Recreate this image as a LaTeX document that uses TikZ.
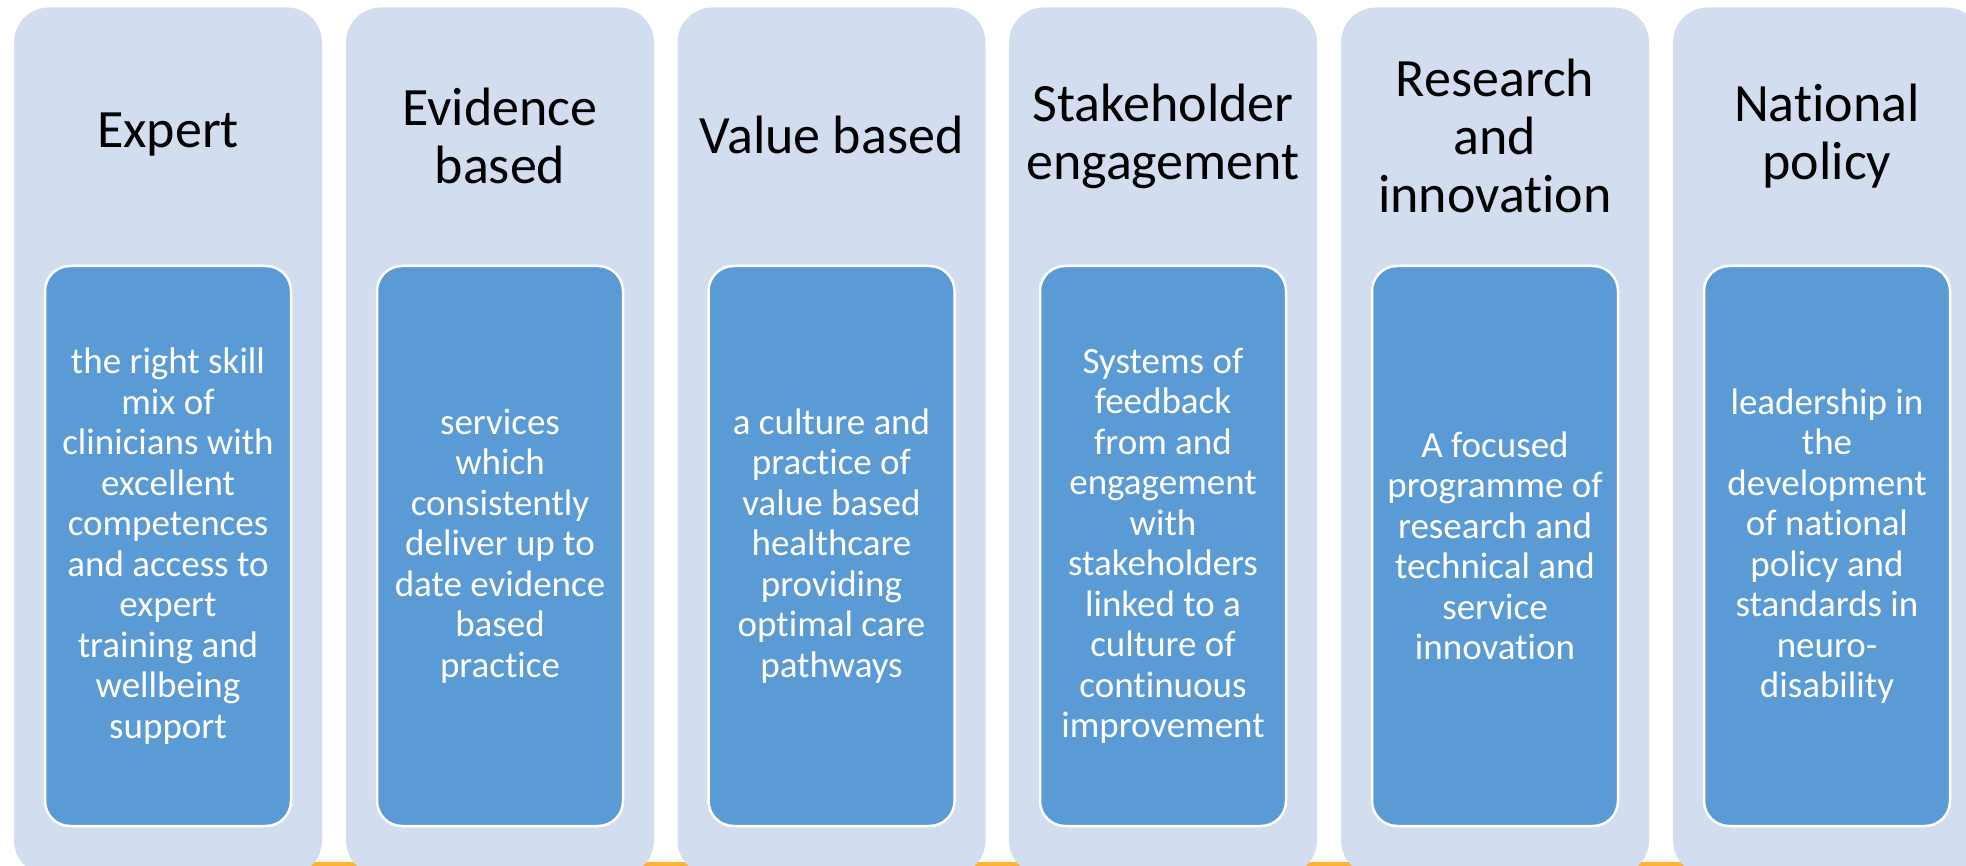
\documentclass[tikz,border=0pt]{standalone}
\usepackage{fontspec}
\setmainfont{Carlito}[Ligatures={NoCommon,NoContextual}]
\definecolor{outerfill}{HTML}{D2DEEF}
\definecolor{innerfill}{HTML}{5B9BD5}
\definecolor{barcol}{HTML}{FFB233}
\begin{document}
\begin{tikzpicture}[x=1pt,y=-1pt,
 outerbox/.style={fill=outerfill, rounded corners=35pt, minimum width=308pt, minimum height=868pt, inner sep=0pt},
 innerbox/.style={fill=innerfill, draw=white, line width=2.5pt, rounded corners=25pt, minimum width=246pt, minimum height=560pt, inner sep=0pt, text=white, align=center, font=\fontsize{37}{40.5}\selectfont},
 titletext/.style={align=center, font=\fontsize{54}{58}\selectfont, text=black, inner sep=0pt}]
\useasboundingbox (0,0) rectangle (1966,866);
\clip (0,0) rectangle (1966,866);
\fill[white] (0,0) rectangle (1966,866);
\fill[barcol] (168,862) rectangle (1827,890);

\node[outerbox] (o1) at (168,441.5) {};
\node[outerbox] (o2) at (500,441.5) {};
\node[outerbox] (o3) at (831.5,441.5) {};
\node[outerbox] (o4) at (1163,441.5) {};
\node[outerbox] (o5) at (1495,441.5) {};
\node[outerbox] (o6) at (1827,441.5) {};

\node[titletext] (t1) at (168,135) {Expert};
\node[titletext] (t2) at (500,136) {Evidence\\based};
\node[titletext] (t3) at (831.5,135) {Value based};
\node[titletext] (t4) at (1163,136) {Stakeholder\\engagement};
\node[titletext] (t5) at (1495,136) {Research\\and\\innovation};
\node[titletext] (t6) at (1827,136) {National\\policy};

\node[innerbox] (i1) at (168,546) {the right skill\\mix of\\clinicians with\\excellent\\competences\\and access to\\expert\\training and\\wellbeing\\support};
\node[innerbox] (i2) at (500,546) {services\\which\\consistently\\deliver up to\\date evidence\\based\\practice};
\node[innerbox] (i3) at (831.5,546) {a culture and\\practice of\\value based\\healthcare\\providing\\optimal care\\pathways};
\node[innerbox] (i4) at (1163,546) {Systems of\\feedback\\from and\\engagement\\with\\stakeholders\\linked to a\\culture of\\continuous\\improvement};
\node[innerbox] (i5) at (1495,546) {A focused\\programme of\\research and\\technical and\\service\\innovation};
\node[innerbox] (i6) at (1827,546) {leadership in\\the\\development\\of national\\policy and\\standards in\\neuro-\\disability};
\end{tikzpicture}
\end{document}
